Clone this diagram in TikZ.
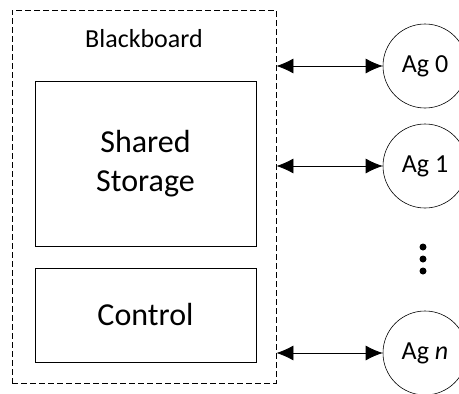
\documentclass[tikz,border=0pt]{standalone}
\usepackage{fontspec}
\setmainfont{Carlito}
\usetikzlibrary{arrows.meta,positioning}
\begin{document}
\begin{tikzpicture}[x=1pt,y=-1pt,
    box/.style={draw, line width=0.8pt, minimum width=221pt, inner sep=0pt, align=center, font=\fontsize{32}{39}\selectfont},
    agent/.style={draw, circle, line width=0.6pt, minimum size=84pt, inner sep=0pt, font=\fontsize{26}{31}\selectfont},
    link/.style={<->, >={Latex[length=17pt,width=15pt]}, line width=0.8pt},
    dot/.style={fill, circle, inner sep=0pt, minimum size=7pt}]
    \clip (0,0) rectangle (459,394);
    \node[draw, dash pattern=on 6pt off 3pt, line width=0.8pt, minimum width=264pt, minimum height=373pt] (board) at (144,196.5) {};
    \node[anchor=base, font=\fontsize{26}{31}\selectfont] (title) at (144,47) {Blackboard};
    \node[box, minimum height=165pt] (storage) at (145.5,163.5) {Shared\\Storage};
    \node[box, minimum height=94pt] (control) at (145.5,315) {Control};
    \node[agent] (ag0) at (425,66) {Ag 0};
    \node[agent] (ag1) at (425,166) {Ag 1};
    \node[agent] (agn) at (425,353) {Ag \textit{n}};
    \node[dot] (d1) at (423,247) {};
    \node[dot] (d2) at (423,259) {};
    \node[dot] (d3) at (423,271) {};
    \draw[link] (board.east |- ag0) -- (ag0);
    \draw[link] (board.east |- ag1) -- (ag1);
    \draw[link] (board.east |- agn) -- (agn);
  \end{tikzpicture}
\end{document}
